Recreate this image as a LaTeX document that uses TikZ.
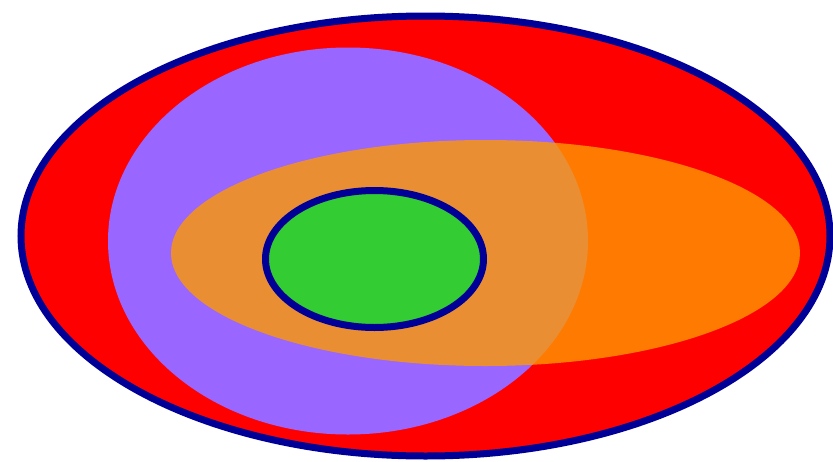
\documentclass[tikz,border=0pt]{standalone}
\usepackage{tikz}

\definecolor{vienxanh}{RGB}{0,0,150}
\definecolor{mauda}{RGB}{255,0,0}
\definecolor{mautim}{RGB}{153,102,255}
\definecolor{mauam}{RGB}{255,153,0}
\definecolor{mauluc}{RGB}{51,204,51}

\tikzset{
    vien/.style={draw=vienxanh, line width=7pt}
}

\begin{document}
\begin{tikzpicture}[x=1pt, y=-1pt]

\useasboundingbox (0,0) rectangle (833,461);

% ===== Ellipse ngoài cùng =====
\filldraw[fill=mauda, vien] (425.5,236) ellipse [x radius=404.5, y radius=220];

% ===== Ellipse tím =====
\fill[mautim] (348,241) ellipse [x radius=240, y radius=193.5];

% ===== Ellipse cam (trong suốt) =====
\fill[mauam, opacity=0.8] (485.5,253) ellipse [x radius=314.5, y radius=113];

% ===== Ellipse xanh lá =====
\filldraw[fill=mauluc, vien] (374.5,259) ellipse [x radius=109, y radius=68.5];

\end{tikzpicture}
\end{document}
